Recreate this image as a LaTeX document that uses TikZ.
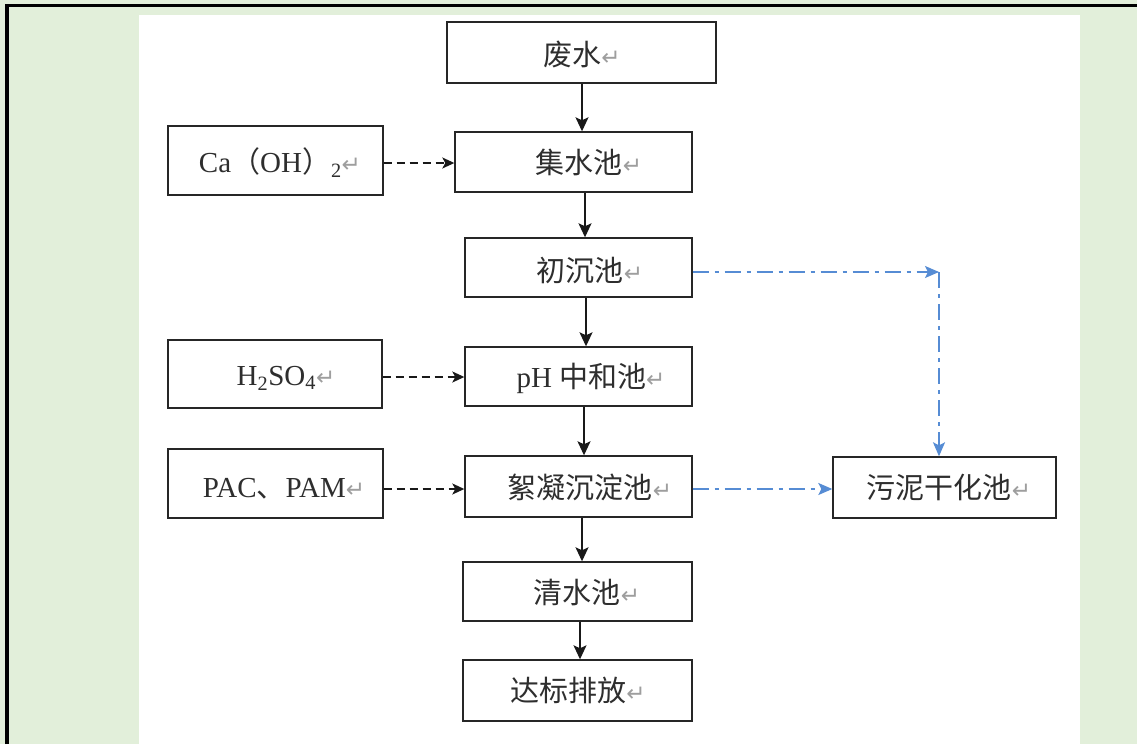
\documentclass[tikz,border=0pt]{standalone}
\usepackage{fontspec}
\setmainfont{Liberation Serif}
\newfontfamily\cjk{Noto Sans CJK SC}
\newfontfamily\symf{DejaVu Sans}
\usetikzlibrary{arrows.meta}
\definecolor{bggreen}{RGB}{226,239,218}
\definecolor{sludgeblue}{RGB}{86,140,212}
% paragraph mark after each label
\newcommand{\pmark}{{\symf\color{black!38}\fontsize{23}{23}\selectfont ↵}}
\tikzset{
  box/.style={draw=black!85, line width=1.4pt, fill=white, inner sep=0pt},
  lbl/.style={inner sep=0pt, anchor=center, text=black!82, font=\fontsize{29}{34}\selectfont},
  flow/.style={draw=black!90, line width=1.4pt, -{Stealth[length=14pt,width=13pt,inset=3pt]}},
  dose/.style={draw=black!90, line width=1.6pt, dash pattern=on 8pt off 5pt, -{Stealth[length=12pt,width=11pt,inset=3pt]}},
  sludge/.style={draw=sludgeblue, line width=1.5pt, dash pattern=on 16pt off 6pt on 4pt off 6pt, -{Stealth[length=14pt,width=12pt,inset=3pt]}}
}
\begin{document}
\begin{tikzpicture}[x=1pt,y=-1pt]
\useasboundingbox (0,0) rectangle (1137,744);
% background, panel and frame
\fill[bggreen] (0,0) rectangle (1137,744);
\fill[white] (139,15) rectangle (1080,744);
\draw[black, line width=3.4pt] (7,744) -- (7,5.7) -- (1137,5.7);

% main treatment line
\node[box, minimum width=269pt, minimum height=61pt] (waste) at (581.5,52.5) {};
\node[box, minimum width=237pt, minimum height=60pt] (collect) at (573.5,162) {};
\node[box, minimum width=227pt, minimum height=59pt] (primary) at (578.5,267.5) {};
\node[box, minimum width=227pt, minimum height=59pt] (neutral) at (578.5,376.5) {};
\node[box, minimum width=227pt, minimum height=61pt] (floc) at (578.5,486.5) {};
\node[box, minimum width=229pt, minimum height=59pt] (clear) at (577.5,591.5) {};
\node[box, minimum width=229pt, minimum height=61pt] (outlet) at (577.5,690.5) {};
% dosing
\node[box, minimum width=215pt, minimum height=69pt] (caoh) at (275.5,160.5) {};
\node[box, minimum width=214pt, minimum height=68pt] (acid) at (275,374) {};
\node[box, minimum width=215pt, minimum height=69pt] (pac) at (275.5,483.5) {};
% sludge
\node[box, minimum width=223pt, minimum height=61pt] (dry) at (944.5,487.5) {};

% labels
\node[lbl] at (582,55) {\cjk 废水\pmark};
\node[lbl] at (589,162) {\cjk 集水池\pmark};
\node[lbl] at (590,270) {\cjk 初沉池\pmark};
\node[lbl] at (591,378) {pH {\cjk 中和池}\pmark};
\node[lbl] at (590,487) {\cjk 絮凝沉淀池\pmark};
\node[lbl] at (587,592) {\cjk 清水池\pmark};
\node[lbl] at (578,690) {\cjk 达标排放\pmark};
\node[lbl] at (949,487) {\cjk 污泥干化池\pmark};
\node[lbl] at (280,163) {Ca{\cjk （}OH{\cjk ）}\textsubscript{2}\pmark};
\node[lbl] at (286,378) {H\textsubscript{2}SO\textsubscript{4}\pmark};
\node[lbl] at (284,489) {PAC{\cjk 、}PAM\pmark};

% water flow
\draw[flow] ([xshift=0.5pt]waste.south) -- ([xshift=8.5pt]collect.north);
\draw[flow] ([xshift=11.5pt]collect.south) -- ([xshift=6.5pt]primary.north);
\draw[flow] ([xshift=7.5pt]primary.south) -- ([xshift=7.5pt]neutral.north);
\draw[flow] ([xshift=5.5pt]neutral.south) -- ([xshift=5.5pt]floc.north);
\draw[flow] ([xshift=3.5pt]floc.south) -- ([xshift=4.5pt]clear.north);
\draw[flow] ([xshift=2.5pt]clear.south) -- ([xshift=2.5pt]outlet.north);

% chemical dosing
\draw[dose] ([yshift=-2.5pt]caoh.east) -- ([yshift=-1pt]collect.west);
\draw[dose] ([yshift=-3pt]acid.east) -- ([yshift=-0.5pt]neutral.west);
\draw[dose] ([yshift=-5.5pt]pac.east) -- ([yshift=-2.5pt]floc.west);

% sludge lines
\coordinate (turn) at (939,272);
\draw[sludge] ([yshift=-4.5pt]primary.east) -- (turn);
\draw[sludge] (turn) -- (turn |- dry.north);
\draw[sludge] ([yshift=-2.5pt]floc.east) -- ([yshift=-1.5pt]dry.west);
\end{tikzpicture}
\end{document}
